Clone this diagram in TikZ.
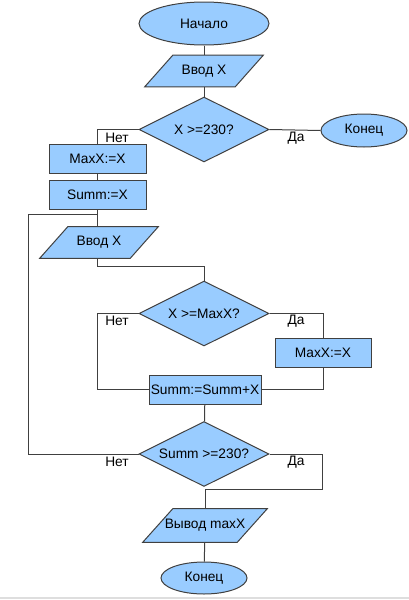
\documentclass[tikz,border=0pt]{standalone}
\usepackage{fontspec}
\setmainfont{Liberation Sans}
\usetikzlibrary{shapes.geometric,backgrounds}
\definecolor{fillblue}{HTML}{99CCFF}
\definecolor{edge}{HTML}{404040}
\begin{document}
\begin{tikzpicture}[x=0.75pt,y=-0.75pt,
  every node/.style={font=\fontsize{10.3}{12}\selectfont, inner sep=0pt, text=black},
  base/.style={draw=edge, fill=fillblue, line width=0.75pt},
  term/.style={base, ellipse},
  proc/.style={base, rectangle, minimum height=21.75pt},
  io/.style={rectangle, minimum height=23.25pt},
  cond/.style={base, diamond, minimum width=97.5pt, minimum height=48.75pt, aspect=2},
  conn/.style={draw=edge, line width=0.75pt},
  lbl/.style={font=\fontsize{10.3}{12}\selectfont}]
\useasboundingbox (0,0) rectangle (409,600);
\draw[color=black!13, line width=1.2pt] (0,598) -- (409,598);

\node[term, minimum width=97.5pt, minimum height=32.25pt] (start) at (204,23.5) {Начало};
\node[io, minimum width=88.5pt] (in1) at (204,71) {Ввод X};
\node[cond] (c1) at (204,129.5) {X >=230?};
\node[term, minimum width=64.5pt, minimum height=24.75pt] (end1) at (364,130.5) {Конец};
\node[proc, minimum width=72.75pt] (max1) at (97.5,158.5) {MaxX:=X};
\node[proc, minimum width=72.75pt] (sum1) at (97.5,195) {Summ:=X};
\node[io, minimum width=88.5pt] (in2) at (99,242.5) {Ввод X};
\node[cond] (c2) at (204,313.5) {X >=MaxX?};
\node[proc, minimum width=72pt] (max2) at (323,352.5) {MaxX:=X};
\node[proc, minimum width=84pt] (sum2) at (205,389.5) {Summ:=Summ+X};
\node[cond] (c3) at (204,454) {Summ >=230?};
\node[io, minimum width=93pt, minimum height=24.75pt] (out) at (205,525.5) {Вывод maxX};
\node[term, minimum width=64.5pt, minimum height=24pt] (end2) at (204,578) {Конец};

\begin{scope}[on background layer]
  \draw[base] ([xshift=21pt]in1.north west) -- (in1.north east)
     -- ([xshift=-21pt]in1.south east) -- (in1.south west) -- cycle;
  \draw[base] ([xshift=21pt]in2.north west) -- (in2.north east)
     -- ([xshift=-21pt]in2.south east) -- (in2.south west) -- cycle;
  \draw[base] ([xshift=22.5pt]out.north west) -- (out.north east)
     -- ([xshift=-22.5pt]out.south east) -- (out.south west) -- cycle;
\end{scope}

\coordinate (loopA) at (28,454);
\coordinate (loopB) at (28,214);
\coordinate (loopC) at (97.5,214);

\draw[conn] (start) -- (in1);
\draw[conn] (in1) -- (c1);
\draw[conn] (c1.east) -- (end1.west);
\draw[conn] (c1.west) -| (max1.north);
\draw[conn] (max1) -- (sum1);
\draw[conn] (sum1.south) -- (in2.north -| sum1.south);
\draw[conn] (in2.south -| sum1.south) |- (204,266) -- (c2.north);
\draw[conn] (c2.east) -| (max2.north);
\draw[conn] (max2.south) |- (sum2.east);
\draw[conn] (c2.west) -| (97,389.5) -- (sum2.west);
\draw[conn] (sum2) -- (c3);
\draw[conn] (c3.west) -- (loopA) -- (loopB) -- (loopC);
\draw[conn] (c3.east) -| (322,489) -| (out.north);
\draw[conn] (out) -- (end2);

\node[lbl] (l1) at (117,138) {Нет};
\node[lbl] (l2) at (296,138) {Да};
\node[lbl] (l3) at (117,321) {Нет};
\node[lbl] (l4) at (296,321) {Да};
\node[lbl] (l5) at (117,462) {Нет};
\node[lbl] (l6) at (296,462) {Да};
\end{tikzpicture}
\end{document}
